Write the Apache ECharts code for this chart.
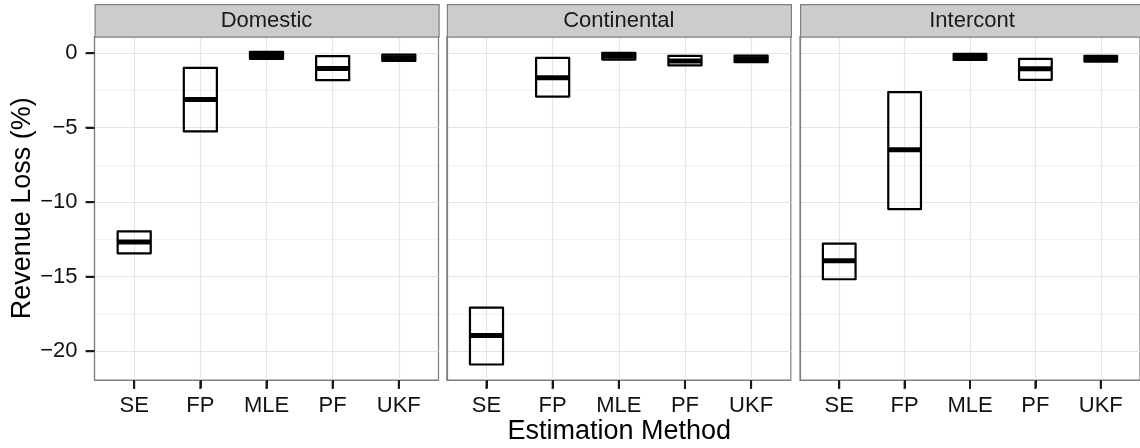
<!DOCTYPE html>
<html>
<head>
<meta charset="utf-8">
<script src="https://cdn.jsdelivr.net/npm/echarts@6/dist/echarts.min.js"></script>
<style>
  html, body { margin: 0; padding: 0; background: #fff; }
  #main { width: 1140px; height: 448px; }
</style>
</head>
<body>
<div id="main"></div>
<script>
// categories
const methods = ['SE', 'FP', 'MLE', 'PF', 'UKF'];
const regions = ['Domestic', 'Continental', 'Intercont'];
const yTicks = [-20, -15, -10, -5, 0];
const yMinorTicks = [-17.5, -12.5, -7.5, -2.5];

// crossbar values (lower, middle, upper) per region, in method order
const domesticLow  = [-13.43, -5.25, -0.38, -1.81, -0.52];
const domesticMid  = [-12.67, -3.11, -0.15, -1.03, -0.30];
const domesticHigh = [-11.96, -0.98,  0.09, -0.20, -0.09];

const continentalLow  = [-20.89, -2.91, -0.43, -0.82, -0.60];
const continentalMid  = [-18.95, -1.64, -0.20, -0.52, -0.38];
const continentalHigh = [-17.07, -0.32,  0.02, -0.18, -0.16];

const intercontLow  = [-15.17, -10.46, -0.45, -1.79, -0.56];
const intercontMid  = [-13.92,  -6.48, -0.25, -1.05, -0.37];
const intercontHigh = [-12.78,  -2.61, -0.05, -0.38, -0.18];

const lows  = [domesticLow, continentalLow, intercontLow];
const mids  = [domesticMid, continentalMid, intercontMid];
const highs = [domesticHigh, continentalHigh, intercontHigh];

// layout
const panelLefts = [94.5, 446.8, 800];
const panelWidth = 344;
const panelTop = 36.5;
const panelHeight = 343.5;
const stripTop = 4;
const font = "'Liberation Sans', Arial, Helvetica, sans-serif";
const halfWidth = 0.25;
const borderColor = '#7f7f7f';
const tickColor = '#1a1a1a';
const tickLen = 8;
const xMin = 0.4, xMax = 5.6;
const yMin = -21.93, yMax = 1.12;

const chart = echarts.init(document.getElementById('main'));

function renderCrossbar(params, api) {
  const x = api.value(0);
  const lo = api.value(1), mid = api.value(2), hi = api.value(3);
  const tl = api.coord([x - halfWidth, hi]);
  const br = api.coord([x + halfWidth, lo]);
  const ml = api.coord([x - halfWidth, mid]);
  const mr = api.coord([x + halfWidth, mid]);
  const base = api.coord([x, yMin]);
  return {
    type: 'group',
    children: [
      {
        type: 'rect',
        shape: { x: tl[0], y: tl[1], width: br[0] - tl[0], height: br[1] - tl[1] },
        style: { fill: 'none', stroke: '#000', lineWidth: 2.2, lineJoin: 'round' }
      },
      {
        type: 'line',
        shape: { x1: ml[0], y1: ml[1], x2: mr[0], y2: mr[1] },
        style: { stroke: '#000', lineWidth: 5 }
      },
      // x tick mark under the panel
      {
        type: 'line',
        shape: { x1: base[0], y1: base[1] + 1, x2: base[0], y2: base[1] + 1 + tickLen },
        style: { stroke: tickColor, lineWidth: 2 }
      }
    ]
  };
}

function renderYTick(params, api) {
  const p = api.coord([xMin, api.value(0)]);
  return {
    type: 'line',
    shape: { x1: p[0] - 1 - tickLen, y1: p[1], x2: p[0] - 1, y2: p[1] },
    style: { stroke: tickColor, lineWidth: 2 }
  };
}

const grids = [], xAxes = [], yAxes = [], series = [], graphics = [];

regions.forEach((region, i) => {
  grids.push({
    left: panelLefts[i], top: panelTop, width: panelWidth, height: panelHeight,
    show: true, borderColor: borderColor, borderWidth: 1.2
  });

  xAxes.push({
    gridIndex: i,
    type: 'value',
    position: 'bottom',
    min: xMin,
    max: xMax,
    axisLine: { show: true, onZero: false, lineStyle: { color: borderColor, width: 1.2 } },
    axisTick: { show: true, inside: false, length: tickLen, customValues: [1, 2, 3, 4, 5], lineStyle: { color: tickColor, width: 2 } },
    axisLabel: {
      customValues: [1, 2, 3, 4, 5],
      formatter: v => methods[Math.round(v) - 1],
      fontSize: 22, color: '#111', fontFamily: font, margin: 15
    },
    splitLine: { show: true, lineStyle: { color: '#e5e5e5', width: 1.2 } }
  });

  // main y axis
  yAxes.push({
    gridIndex: i,
    type: 'value',
    position: 'left',
    min: yMin,
    max: yMax,
    axisLine: { show: true, onZero: false, lineStyle: { color: borderColor, width: 1.2 } },
    axisTick: { show: i === 0, inside: false, length: tickLen, customValues: yTicks, lineStyle: { color: tickColor, width: 2 } },
    axisLabel: {
      show: i === 0,
      customValues: yTicks,
      formatter: v => (v < 0 ? '\u2212' + Math.abs(v) : String(v)),
      fontSize: 22, color: '#111', fontFamily: font, margin: 17
    },
    splitLine: { show: true, lineStyle: { color: '#e5e5e5', width: 1.2 } },
    name: i === 0 ? 'Revenue Loss (%)' : '',
    nameLocation: 'middle',
    nameRotate: 90,
    nameGap: 58,
    nameTextStyle: { fontSize: 27, color: '#000', fontFamily: font }
  });
  // minor grid lines
  yAxes.push({
    gridIndex: i,
    type: 'value',
    position: 'left',
    min: yMin,
    max: yMax,
    axisLine: { show: false, onZero: false },
    axisTick: { show: false, customValues: yMinorTicks },
    axisLabel: { show: false, customValues: yMinorTicks },
    splitLine: { show: true, lineStyle: { color: '#f3f3f3', width: 1.2 } },
    z: -1
  });

  series.push({
    type: 'custom',
    xAxisIndex: i,
    yAxisIndex: 2 * i,
    renderItem: renderCrossbar,
    clip: false,
    data: methods.map((m, j) => [j + 1, lows[i][j], mids[i][j], highs[i][j]]),
    z: 10
  });

  // facet strip
  graphics.push({
    type: 'rect',
    left: panelLefts[i], top: stripTop,
    shape: { width: panelWidth, height: panelTop - stripTop },
    style: { fill: '#cccccc', stroke: borderColor, lineWidth: 1.2 },
    z: 5
  });
  graphics.push({
    type: 'text',
    x: panelLefts[i] + panelWidth / 2,
    y: (stripTop + panelTop) / 2 + 1,
    style: {
      text: region, fontSize: 22, fontFamily: font, fill: '#1a1a1a',
      textAlign: 'center', textVerticalAlign: 'middle'
    },
    z: 6
  });
});

// y tick marks left of the first panel
series.push({
  type: 'custom',
  xAxisIndex: 0,
  yAxisIndex: 0,
  renderItem: renderYTick,
  clip: false,
  data: yTicks.map(v => [v]),
  z: 10
});

// shared x axis title, centred under all panels
graphics.push({
  type: 'text',
  x: (panelLefts[0] + panelLefts[2] + panelWidth) / 2,
  y: 432,
  style: {
    text: 'Estimation Method', fontSize: 27, fontFamily: font, fill: '#000',
    textAlign: 'center', textVerticalAlign: 'middle'
  }
});

const option = {
  animation: false,
  backgroundColor: '#fff',
  grid: grids,
  xAxis: xAxes,
  yAxis: yAxes,
  series: series,
  graphic: graphics
};

option && chart.setOption(option);
</script>
</body>
</html>
